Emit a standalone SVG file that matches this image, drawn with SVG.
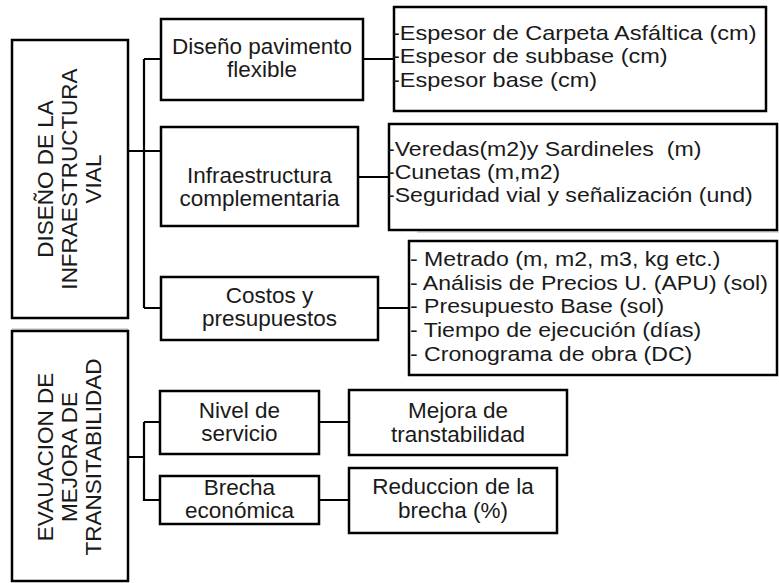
<svg xmlns="http://www.w3.org/2000/svg" width="779" height="583" viewBox="0 0 779 583">
<style>
.box{fill:#fff;stroke:#000;stroke-width:2.5}
.t{font-family:"Liberation Sans",Arial,sans-serif;font-size:22.5px;fill:#1a1a1a}
.c{text-anchor:middle}
.l{font-size:21px}
.conn{stroke:#000;stroke-width:2.2;fill:none}
.faint{stroke:#d0d0d0;stroke-width:1.5;fill:none}
</style>
<rect width="779" height="583" fill="#fff"/>
<g id="artifacts">
<path class="faint" d="M12,329 H128 M417,232 H779"/>
</g>
<g id="connectors">
<path class="conn" d="M128,151 H161 M144,59 V308 M144,59 H161 M144,308 H161"/>
<path class="conn" d="M363,59 H394 M358,177 H389 M378,308 H409"/>
<path class="conn" d="M128,457 H144 M144,422 V501 M144,422 H160 M144,500 H160 M319,422 H349 M319,500 H349"/>
</g>
<g id="diseno-infraestructura">
<rect class="box" x="12" y="40" width="116" height="278"/>
<text class="t c" transform="rotate(-90)"><tspan x="-179" y="53">DISEÑO DE LA</tspan><tspan x="-179" y="77">INFRAESTRUCTURA</tspan><tspan x="-179" y="101">VIAL</tspan></text>
</g>
<g id="evaluacion">
<rect class="box" x="12" y="331" width="116" height="250"/>
<text class="t c" transform="rotate(-90)"><tspan x="-457" y="53">EVAUACION DE</tspan><tspan x="-457" y="77">MEJORA DE</tspan><tspan x="-457" y="101">TRANSITABILIDAD</tspan></text>
</g>
<g id="pavimento">
<rect class="box" x="161" y="19" width="202" height="81"/>
<text class="t c"><tspan x="262" y="54">Diseño pavimento</tspan><tspan x="262" y="77">flexible</tspan></text>
</g>
<g id="complementaria">
<rect class="box" x="161" y="127" width="197" height="99"/>
<text class="t c"><tspan x="259.5" y="183">Infraestructura</tspan><tspan x="259.5" y="206">complementaria</tspan></text>
</g>
<g id="costos">
<rect class="box" x="161" y="277" width="217" height="63"/>
<text class="t c"><tspan x="269.5" y="303">Costos y</tspan><tspan x="269.5" y="326">presupuestos</tspan></text>
</g>
<g id="nivel">
<rect class="box" x="160" y="391" width="159" height="63"/>
<text class="t c"><tspan x="239.5" y="418">Nivel de</tspan><tspan x="239.5" y="441">servicio</tspan></text>
</g>
<g id="brecha">
<rect class="box" x="160" y="476" width="159" height="48"/>
<text class="t c"><tspan x="239.5" y="495">Brecha</tspan><tspan x="239.5" y="518">económica</tspan></text>
</g>
<g id="mejora">
<rect class="box" x="349" y="390" width="218" height="65"/>
<text class="t c"><tspan x="458" y="418">Mejora de</tspan><tspan x="458" y="442">transtabilidad</tspan></text>
</g>
<g id="reduccion">
<rect class="box" x="349" y="468" width="208" height="65"/>
<text class="t c"><tspan x="453" y="494">Reduccion de la</tspan><tspan x="453" y="518">brecha (%)</tspan></text>
</g>
<g id="lista-pavimento">
<rect class="box" x="394" y="7" width="372" height="104"/>
<text class="t l" transform="translate(392,0) scale(1.12,1)"><tspan x="0" y="40">-Espesor de Carpeta Asfáltica (cm)</tspan><tspan x="0" y="63.5">-Espesor de subbase (cm)</tspan><tspan x="0" y="87">-Espesor base (cm)</tspan></text>
</g>
<g id="lista-complementaria">
<rect class="box" x="389" y="124" width="388" height="106"/>
<text class="t l" xml:space="preserve" transform="translate(387,0) scale(1.1,1)"><tspan x="0" y="156">-Veredas(m2)y Sardineles  (m)</tspan><tspan x="0" y="179.5">-Cunetas (m,m2)</tspan><tspan x="0" y="202">-Seguridad vial y señalización (und)</tspan></text>
</g>
<g id="lista-costos">
<rect class="box" x="409" y="241" width="368" height="134"/>
<text class="t l" transform="translate(410,0) scale(1.1,1)"><tspan x="0" y="266">- Metrado (m, m2, m3, kg etc.)</tspan><tspan x="0" y="290">- Análisis de Precios U. (APU) (sol)</tspan><tspan x="0" y="313">- Presupuesto Base (sol)</tspan><tspan x="0" y="337">- Tiempo de ejecución (días)</tspan><tspan x="0" y="361">- Cronograma de obra (DC)</tspan></text>
</g>
</svg>
